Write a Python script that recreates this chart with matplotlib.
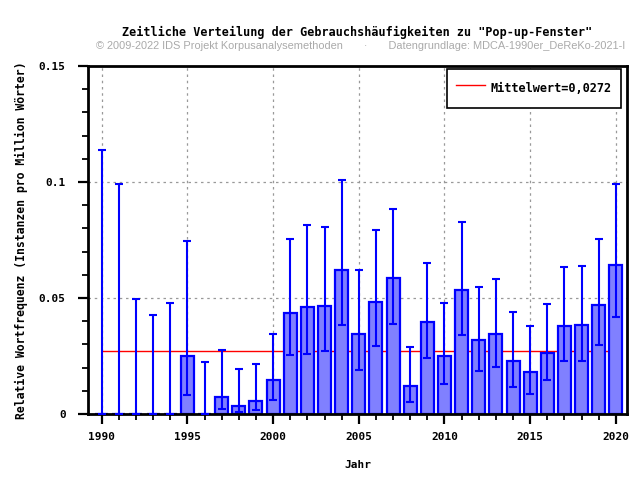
import numpy as np
import matplotlib
matplotlib.use("Agg")
from matplotlib import pyplot as plt
from matplotlib.ticker import MultipleLocator, FixedLocator

# data
years = list(range(1990, 2021))
freq = [0.0, 0.0, 0.0, 0.0, 0.0, 0.0251, 0.0, 0.0075, 0.0036, 0.0057,
        0.0148, 0.0437, 0.0463, 0.0467, 0.0622, 0.0346, 0.0484, 0.0588, 0.0122, 0.0398,
        0.0251, 0.0533, 0.0320, 0.0346, 0.0230, 0.0182, 0.0264, 0.0381, 0.0385, 0.0471,
        0.0644]
err_low = [0.0, 0.0, 0.0, 0.0, 0.0, 0.0083, 0.0, 0.0022, 0.0007, 0.0019,
           0.0062, 0.0256, 0.0260, 0.0273, 0.0384, 0.0190, 0.0294, 0.0389, 0.0053, 0.0243,
           0.0131, 0.0341, 0.0185, 0.0204, 0.0118, 0.0088, 0.0147, 0.0228, 0.0228, 0.0297,
           0.0418]
err_high = [0.1138, 0.0993, 0.0497, 0.0428, 0.0480, 0.0746, 0.0225, 0.0276, 0.0194, 0.0216,
            0.0345, 0.0754, 0.0816, 0.0807, 0.1010, 0.0622, 0.0794, 0.0885, 0.0287, 0.0652,
            0.0478, 0.0828, 0.0549, 0.0582, 0.0441, 0.0379, 0.0474, 0.0634, 0.0638, 0.0754,
            0.0991]
mean_value = 0.0272

title = 'Zeitliche Verteilung der Gebrauchshäufigkeiten zu "Pop-up-Fenster"'
subtitle = ("© 2009-2022 IDS Projekt Korpusanalysemethoden       ·       "
            "Datengrundlage: MDCA-1990er_DeReKo-2021-I")

mono = "DejaVu Sans Mono"

fig = plt.figure(figsize=(6.4, 4.8), dpi=100)
ax = fig.add_axes([88 / 640, 66 / 480, 539 / 640, 348 / 480])

ax.plot([years[0], years[-1]], [mean_value, mean_value], color="red", lw=1,
        zorder=1, label="Mittelwert=0,0272")

freq = np.array(freq)
yerr = [freq - np.array(err_low), np.array(err_high) - freq]
ax.bar(years, freq, width=0.76, color="#8080ff", edgecolor="#0000ff",
       linewidth=1.6, zorder=2)
ax.errorbar(years, freq, yerr=yerr, fmt="none", ecolor="#0000ff",
            elinewidth=1.5, capsize=3, capthick=1.5, zorder=3)

ax.set_xlim(1989.2, 2020.65)
ax.set_ylim(0, 0.15)

ax.xaxis.set_major_locator(FixedLocator([1990, 1995, 2000, 2005, 2010, 2015, 2020]))
ax.xaxis.set_minor_locator(MultipleLocator(1))
ax.yaxis.set_major_locator(FixedLocator([0, 0.05, 0.1, 0.15]))
ax.yaxis.set_minor_locator(MultipleLocator(0.01))
ax.set_yticklabels(["0", "0.05", "0.1", "0.15"])

ax.tick_params(which="major", direction="out", length=7, width=1.6)
ax.tick_params(which="minor", direction="out", length=4, width=1.3)
ax.tick_params(axis="x", which="major", pad=6)
ax.tick_params(axis="y", which="major", pad=9)
for lab in ax.get_xticklabels() + ax.get_yticklabels():
    lab.set_fontfamily(mono)
    lab.set_fontweight("bold")
    lab.set_fontsize(8)

ax.grid(True, which="major", color="#999999", linestyle=(0, (2, 3)), lw=0.9, zorder=0)
ax.set_axisbelow(True)
for s in ax.spines.values():
    s.set_linewidth(2)

ax.set_xlabel("Jahr", fontfamily=mono, fontweight="bold", fontsize=8, labelpad=13)
ax.set_ylabel("Relative Wortfrequenz (Instanzen pro Million Wörter)",
              fontfamily=mono, fontweight="bold", fontsize=8.3, labelpad=8)

leg = ax.legend(loc="upper right", prop={"family": mono, "weight": "bold", "size": 8.6},
                fancybox=False, edgecolor="black", framealpha=1, borderpad=0.75,
                handlelength=2.4, handletextpad=0.5, handleheight=2.3,
                borderaxespad=0, bbox_to_anchor=(0.9889, 0.9914))
leg.get_frame().set_linewidth(1.2)

fig.text(357 / 640, 1 - 32 / 480, title, ha="center", va="center",
         fontfamily=mono, fontweight="bold", fontsize=8.5)
fig.text(361 / 640, 1 - 46 / 480, subtitle, ha="center", va="center",
         fontfamily="Liberation Sans", fontsize=7.95, color="#aaaaaa")

fig.savefig("out.png", dpi=100)
